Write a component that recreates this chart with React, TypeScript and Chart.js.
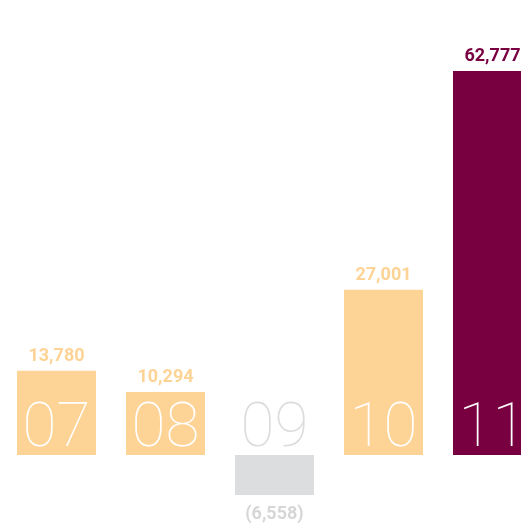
import React, { useEffect, useRef } from "react";
import { Chart, registerables } from "chart.js";

Chart.register(...registerables);

const years = ["07", "08", "09", "10", "11"];
const values = [13780, 10294, -6558, 27001, 62777];
const barColors = ["#FED396", "#FED396", "#DCDDDF", "#FED396", "#780041"];
const labelColors = ["#FED396", "#FED396", "#D6D6D6", "#FED396", "#780041"];
const yearColors = ["#FFFFFF", "#FFFFFF", "#DCDCDC", "#FFFFFF", "#FFFFFF"];

const fmt = (v: number) =>
  v < 0 ? `(${Math.abs(v).toLocaleString("en-US")})` : v.toLocaleString("en-US");

const labelPlugin = {
  id: "barLabels",
  afterDatasetsDraw(chart: any) {
    const ctx = chart.ctx;
    const meta = chart.getDatasetMeta(0);
    const zeroY = chart.scales.y.getPixelForValue(0);
    ctx.save();
    ctx.textAlign = "center";
    ctx.textBaseline = "alphabetic";
    meta.data.forEach((bar: any, i: number) => {
      const v = values[i];
      // big year number
      ctx.font = "100 62px Roboto";
      ctx.fillStyle = yearColors[i];
      ctx.fillText(years[i], bar.x, zeroY - 9);
      // value label
      ctx.font = "bold 18px Roboto";
      ctx.fillStyle = labelColors[i];
      if (v >= 0) {
        ctx.fillText(fmt(v), bar.x, bar.y - 10);
      } else {
        ctx.fillText(fmt(v), bar.x, bar.y + 24);
      }
    });
    ctx.restore();
  },
};

export default function App() {
  const ref = useRef<HTMLCanvasElement>(null);
  useEffect(() => {
    if (!ref.current) return;
    const chart = new Chart(ref.current, {
      type: "bar",
      data: {
        labels: years,
        datasets: [
          {
            data: values,
            backgroundColor: barColors,
            borderWidth: 0,
            categoryPercentage: 1,
            barPercentage: 0.725,
          },
        ],
      },
      options: {
        animation: false,
        responsive: false,
        layout: { padding: 0 },
        plugins: { legend: { display: false }, tooltip: { enabled: false } },
        scales: {
          x: { display: false, grid: { display: false } },
          y: { display: false, min: -11607, max: 74384, grid: { display: false } },
        },
      },
      plugins: [labelPlugin],
    });
    return () => chart.destroy();
  }, []);
  return (
    <div
      style={{
        position: "fixed",
        left: 0,
        top: 0,
        width: 521,
        height: 526,
        overflow: "hidden",
        background: "#fff",
      }}
    >
      <canvas
        ref={ref}
        width={545}
        height={526}
        style={{ position: "absolute", left: 2, top: 0, width: 545, height: 526 }}
      />
    </div>
  );
}
